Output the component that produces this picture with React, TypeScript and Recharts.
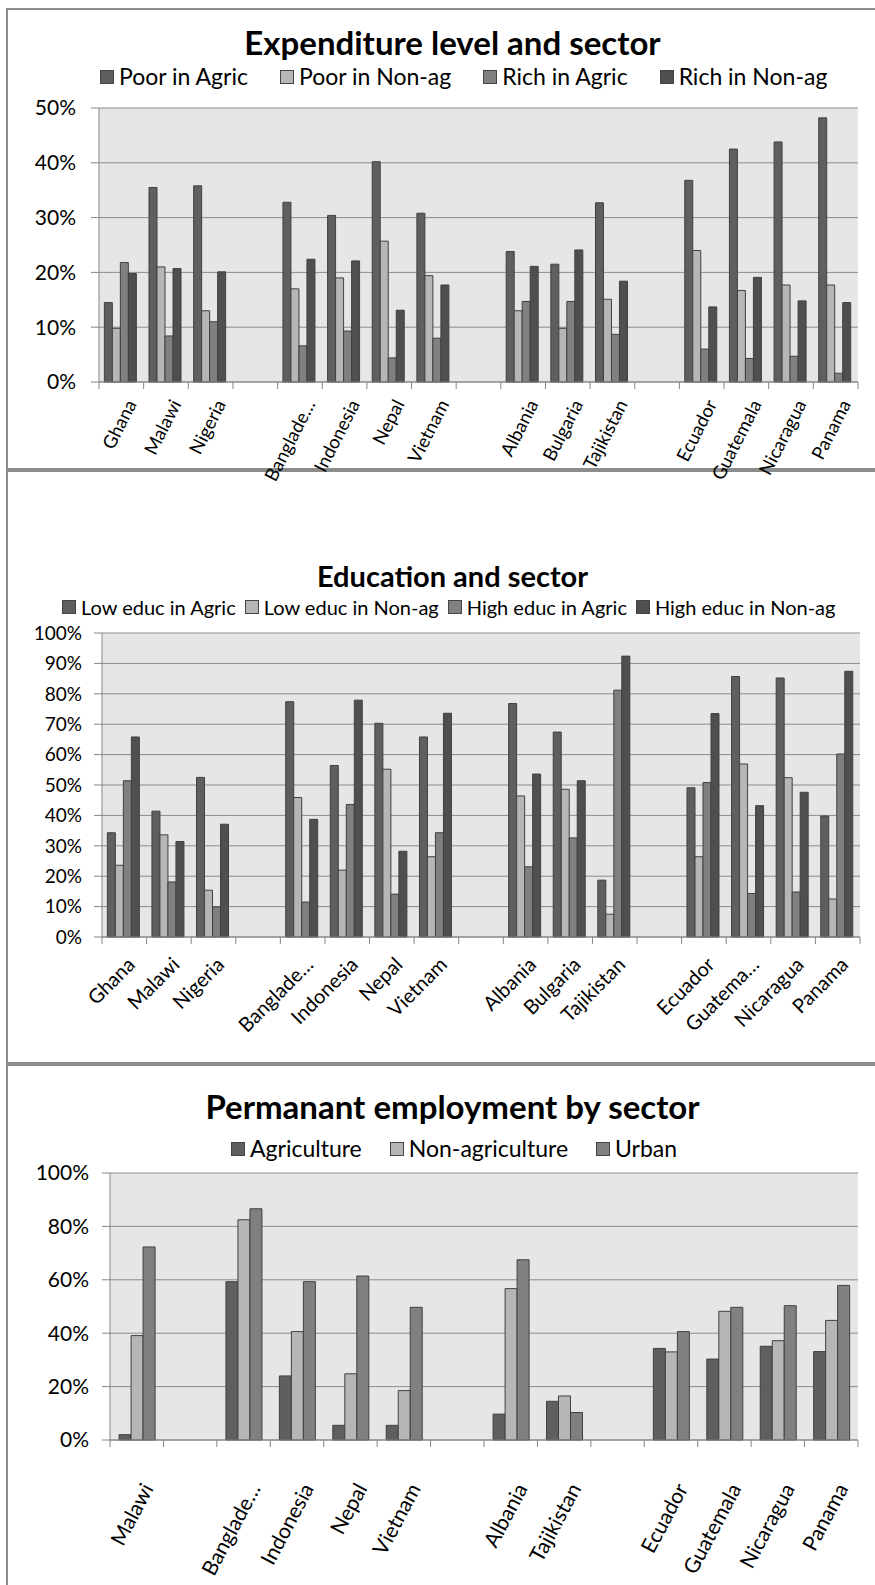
import React from "react";
import { BarChart, Bar, XAxis, YAxis, CartesianGrid } from "recharts";

// chart 1: expenditure level and sector
const expCountries = [
  "Ghana", "Malawi", "Nigeria", " ", "Banglade…", "Indonesia", "Nepal", "Vietnam", "  ",
  "Albania", "Bulgaria", "Tajikistan", "   ", "Ecuador", "Guatemala", "Nicaragua", "Panama",
];
const poorAgric = [14.5, 35.5, 35.8, null, 32.8, 30.4, 40.2, 30.8, null, 23.8, 21.5, 32.7, null, 36.8, 42.5, 43.8, 48.2];
const poorNonag = [9.8, 21.0, 13.0, null, 17.0, 19.0, 25.7, 19.4, null, 13.0, 9.8, 15.1, null, 24.0, 16.7, 17.7, 17.7];
const richAgric = [21.8, 8.4, 11.0, null, 6.6, 9.3, 4.4, 8.0, null, 14.7, 14.7, 8.7, null, 6.0, 4.3, 4.7, 1.6];
const richNonag = [19.8, 20.7, 20.1, null, 22.4, 22.1, 13.1, 17.7, null, 21.1, 24.1, 18.4, null, 13.7, 19.1, 14.8, 14.5];
const expSeries = ["Poor in Agric", "Poor in Non-ag", "Rich in Agric", "Rich in Non-ag"];
const expTicks = [0, 10, 20, 30, 40, 50];

// chart 2: education and sector
const eduCountries = [
  "Ghana", "Malawi", "Nigeria", " ", "Banglade…", "Indonesia", "Nepal", "Vietnam", "  ",
  "Albania", "Bulgaria", "Tajikistan", "   ", "Ecuador", "Guatema…", "Nicaragua", "Panama",
];
const lowAgric = [34.3, 41.4, 52.5, null, 77.4, 56.4, 70.3, 65.8, null, 76.8, 67.4, 18.7, null, 49.1, 85.7, 85.2, 39.8];
const lowNonag = [23.6, 33.6, 15.4, null, 45.9, 22.0, 55.2, 26.4, null, 46.4, 48.6, 7.5, null, 26.4, 56.9, 52.4, 12.5];
const highAgric = [51.4, 18.1, 9.9, null, 11.5, 43.6, 14.1, 34.3, null, 23.1, 32.6, 81.2, null, 50.8, 14.3, 14.8, 60.2];
const highNonag = [65.8, 31.4, 37.1, null, 38.7, 77.9, 28.2, 73.6, null, 53.6, 51.4, 92.4, null, 73.5, 43.2, 47.6, 87.4];
const eduSeries = ["Low educ in Agric", "Low educ in Non-ag", "High educ in Agric", "High educ in Non-ag"];
const eduTicks = [0, 10, 20, 30, 40, 50, 60, 70, 80, 90, 100];

// chart 3: permanent employment by sector
const empCountries = [
  "Malawi", " ", "Banglade…", "Indonesia", "Nepal", "Vietnam", "  ",
  "Albania", "Tajikistan", "   ", "Ecuador", "Guatemala", "Nicaragua", "Panama",
];
const agriculture = [2.0, null, 59.3, 24.0, 5.5, 5.5, null, 9.7, 14.5, null, 34.3, 30.3, 35.1, 33.1];
const nonAgriculture = [39.1, null, 82.5, 40.6, 24.8, 18.5, null, 56.7, 16.5, null, 33.0, 48.2, 37.2, 44.8];
const urban = [72.3, null, 86.6, 59.3, 61.4, 49.7, null, 67.5, 10.3, null, 40.6, 49.7, 50.3, 57.9];
const empSeries = ["Agriculture", "Non-agriculture", "Urban"];
const empTicks = [0, 20, 40, 60, 80, 100];

const FONT = "Lato, 'Liberation Sans', sans-serif";
const C4 = ["#5f5f5f", "#b6b6b6", "#808080", "#4f4f4f"];
const C3 = ["#5f5f5f", "#b6b6b6", "#808080"];
const AXIS = "#868686";

function rows(cats: string[], keys: string[], cols: (number | null)[][]) {
  return cats.map((name, i) => {
    const r: any = { name };
    keys.forEach((k, j) => (r[k] = cols[j][i]));
    return r;
  });
}

// excel-style ticks between categories + rotated labels
function makeTick(n: number, plotW: number, angle: number, dx: number, dy: number, fs: number) {
  return (props: any) => {
    const { x, y, payload, index } = props;
    const band = plotW / n;
    return (
      <g>
        <line x1={x - band / 2} x2={x - band / 2} y1={y} y2={y + 7} stroke={AXIS} />
        {index === n - 1 && <line x1={x + band / 2} x2={x + band / 2} y1={y} y2={y + 7} stroke={AXIS} />}
        <text
          transform={`translate(${x + dx},${y + dy}) rotate(${angle})`}
          textAnchor="end"
          dy="0.35em"
          fontSize={fs}
          fontFamily={FONT}
          fill="#000"
        >
          {payload.value.trim()}
        </text>
      </g>
    );
  };
}

function Legend({ names, colors, top, left, gap, fs }: any) {
  return (
    <div style={{ position: "absolute", top, left, display: "flex", alignItems: "center", fontFamily: FONT, fontSize: fs, lineHeight: 1, gap, whiteSpace: "nowrap" }}>
      {names.map((n: string, i: number) => (
        <div key={n} style={{ display: "flex", alignItems: "center" }}>
          <span style={{ width: 12, height: 12, background: colors[i], border: "1px solid #444", marginRight: 5, display: "inline-block" }} />
          <span>{n}</span>
        </div>
      ))}
    </div>
  );
}

function Title({ text, top, fs }: any) {
  return (
    <div style={{ position: "absolute", top, left: 0, width: 905, textAlign: "center", fontFamily: FONT, fontWeight: 700, fontSize: fs, lineHeight: 1 }}>
      {text}
    </div>
  );
}

function Chart({ data, keys, colors, top, height, plot, yMax, yTicks, yFs, yMargin, gapPct, tick }: any) {
  return (
    <div style={{ position: "absolute", left: 0, top }}>
      <BarChart
        width={875}
        height={height}
        data={data}
        margin={{ top: plot.top - top, right: 875 - plot.right, left: plot.left - 60, bottom: 0 }}
        barGap={0}
        barCategoryGap={gapPct}
      >
        <CartesianGrid vertical={false} stroke="#8c8c8c" fill="#e6e6e6" />
        <XAxis
          dataKey="name"
          interval={0}
          height={top + height - plot.bottom}
          stroke={AXIS}
          tickLine={false}
          tickSize={0}
          tickMargin={0}
          tick={tick}
        />
        <YAxis
          width={60}
          domain={[0, yMax]}
          ticks={yTicks}
          tickFormatter={(v) => `${v}%`}
          stroke={AXIS}
          tickSize={8}
          tickMargin={yMargin}
          tick={{ fontSize: yFs, fontFamily: FONT, fill: "#000" }}
        />
        {keys.map((k: string, i: number) => (
          <Bar key={k} dataKey={k} fill={colors[i]} stroke="#404040" strokeWidth={1} isAnimationActive={false} />
        ))}
      </BarChart>
    </div>
  );
}

export default function App() {
  const expData = rows(expCountries, expSeries, [poorAgric, poorNonag, richAgric, richNonag]);
  const eduData = rows(eduCountries, eduSeries, [lowAgric, lowNonag, highAgric, highNonag]);
  const empData = rows(empCountries, empSeries, [agriculture, nonAgriculture, urban]);

  const p1 = { left: 99, right: 858, top: 108, bottom: 382 };
  const p2 = { left: 102, right: 860, top: 633, bottom: 937 };
  const p3 = { left: 110, right: 858, top: 1173, bottom: 1440 };

  const frame = (top: number, h: number) => ({
    position: "absolute" as const, left: 6, top, width: 900, height: h, border: "2px solid #8c8c8c", boxSizing: "border-box" as const,
  });

  return (
    <div style={{ position: "absolute", left: 0, top: 0, width: 875, height: 1585, overflow: "hidden", background: "#fff" }}>
      <div style={frame(8, 462)} />
      <div style={frame(470, 594)} />
      <div style={frame(1064, 540)} />

      <Title text="Expenditure level and sector" top={26} fs={33} />
      <Legend names={expSeries} colors={C4} top={65} left={100} gap={32} fs={23} />
      <Chart data={expData} keys={expSeries} colors={C4} top={0} height={490} plot={p1} yMax={50} yTicks={expTicks}
        yFs={21} yMargin={15} gapPct="12%" tick={makeTick(17, p1.right - p1.left, -63, 10, 19, 18.5)} />

      <Title text="Education and sector" top={561} fs={29} />
      <Legend names={eduSeries} colors={C4} top={597} left={62} gap={9} fs={20} />
      <Chart data={eduData} keys={eduSeries} colors={C4} top={470} height={594} plot={p2} yMax={100} yTicks={eduTicks}
        yFs={19} yMargin={12} gapPct="12%" tick={makeTick(17, p2.right - p2.left, -45, 7, 24, 20)} />

      <Title text="Permanant employment by sector" top={1090} fs={33} />
      <Legend names={empSeries} colors={C3} top={1137} left={231} gap={28} fs={23} />
      <Chart data={empData} keys={empSeries} colors={C3} top={1064} height={521} plot={p3} yMax={100} yTicks={empTicks}
        yFs={21} yMargin={13} gapPct="17%" tick={makeTick(14, p3.right - p3.left, -62, 11, 45, 21)} />
    </div>
  );
}
